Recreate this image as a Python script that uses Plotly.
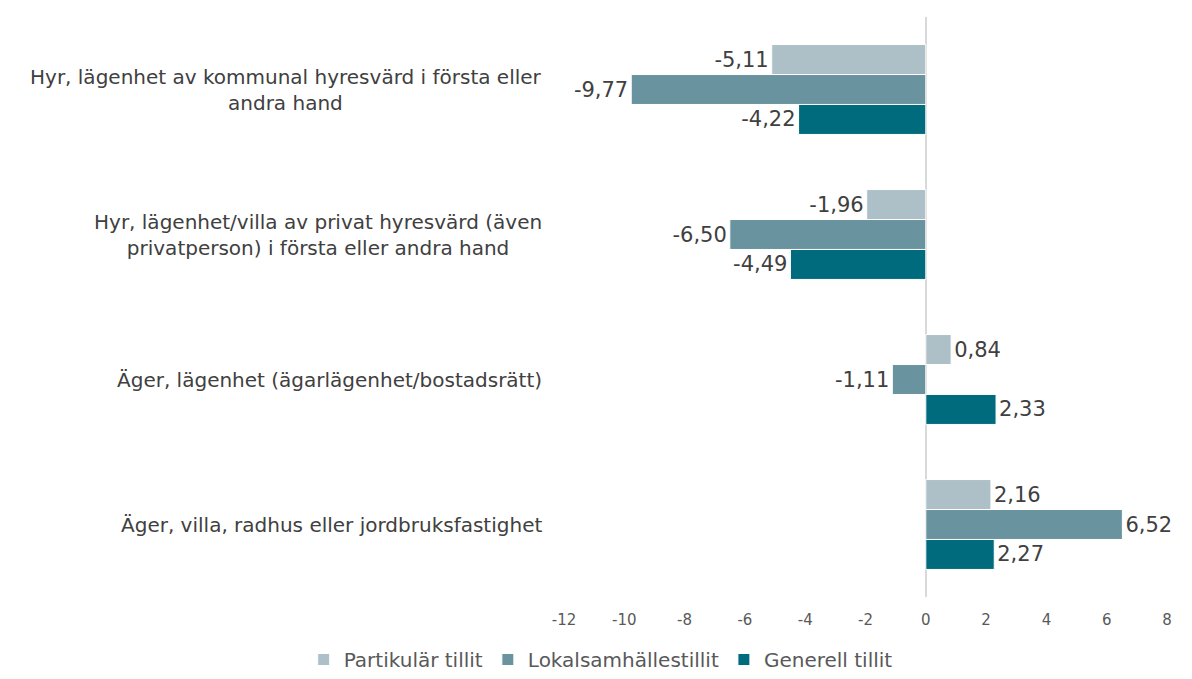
import plotly.graph_objects as go

categories = [
    "Hyr, lägenhet av kommunal hyresvärd i första eller<br>andra hand",
    "Hyr, lägenhet/villa av privat hyresvärd (även<br>privatperson) i första eller andra hand",
    "Äger, lägenhet (ägarlägenhet/bostadsrätt)",
    "Äger, villa, radhus eller jordbruksfastighet",
]
series_names = ["Partikulär tillit", "Lokalsamhällestillit", "Generell tillit"]
partikular = [-5.11, -1.96, 0.84, 2.16]
lokal = [-9.77, -6.50, -1.11, 6.52]
generell = [-4.22, -4.49, 2.33, 2.27]
tick_vals = [-12, -10, -8, -6, -4, -2, 0, 2, 4, 6, 8]

colors = ["#ADBFC7", "#6A93A0", "#006B7D"]
FONT = "DejaVu Sans"

def fmt(v):
    return f"{v:.2f}".replace(".", ",")

fig = go.Figure()
for name, vals, col in zip(series_names, [partikular, lokal, generell], colors):
    fig.add_trace(go.Bar(
        y=categories, x=vals, name=name, orientation="h",
        marker=dict(color=col, line=dict(color="white", width=1)),
        text=[fmt(v) for v in vals], textposition="outside",
        textfont=dict(size=21, color="#404040", family=FONT),
        cliponaxis=False,
    ))

for c in categories:
    fig.add_annotation(
        x=0, xref="paper", xanchor="right", xshift=-20,
        y=c, yref="y", text=c, showarrow=False, align="center",
        font=dict(size=20, color="#404040", family=FONT),
    )

fig.update_layout(
    width=1176, height=671,
    barmode="group", bargap=0.38, bargroupgap=0,
    plot_bgcolor="white", paper_bgcolor="white",
    margin=dict(l=556, r=17, t=9, b=82),
    font=dict(family=FONT, color="#595959"),
    legend=dict(orientation="h", xref="container", x=0.504, xanchor="center",
                yref="container", y=-0.01, yanchor="bottom",
                font=dict(size=20, color="#595959", family=FONT),
                traceorder="normal"),
    showlegend=True,
)
fig.update_xaxes(range=[-12, 8], tickvals=tick_vals, ticktext=[str(t) for t in tick_vals],
                 showgrid=False, zeroline=True, zerolinecolor="#D9D9D9", zerolinewidth=2,
                 tickfont=dict(size=15, color="#595959", family=FONT),
                 ticklabelstandoff=12, showline=False)
fig.update_yaxes(autorange="reversed", showticklabels=False, showgrid=False, zeroline=False)

fig.write_html("out.html")
